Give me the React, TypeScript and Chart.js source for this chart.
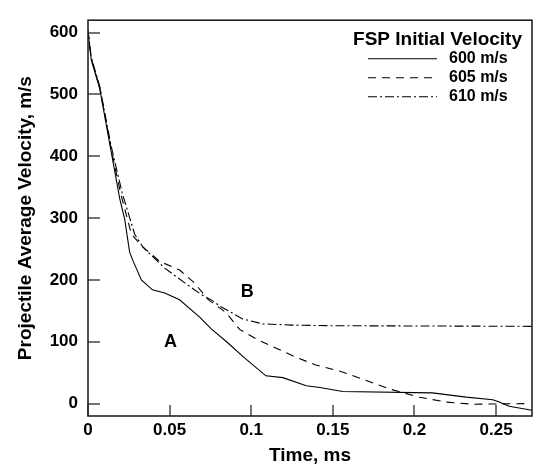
import React, { useEffect, useRef } from "react";
import { Chart, registerables } from "chart.js";

Chart.register(...registerables);

// ---- data ----
const xTicks = [0, 0.05, 0.1, 0.15, 0.2, 0.25];
const xTickLabels = ["0", "0.05", "0.1", "0.15", "0.2", "0.25"];
const yTicks = [0, 100, 200, 300, 400, 500, 600];
const yTickLabels = ["0", "100", "200", "300", "400", "500", "600"];

const seriesLabels = ["600 m/s", "605 m/s", "610 m/s"];

const t600 = [0, 0.002, 0.0072, 0.0143, 0.0194, 0.0225, 0.0255, 0.0274, 0.0327, 0.0395, 0.047, 0.0561, 0.0684, 0.0755, 0.0849, 0.0959, 0.109, 0.1194, 0.1337, 0.142, 0.156, 0.211, 0.2317, 0.248, 0.252, 0.258, 0.272];
const v600 = [600, 556, 509, 406, 332, 298, 245, 232, 200, 184, 179, 168, 140, 121, 100, 74, 45, 42, 29, 26, 19.5, 17.4, 10.5, 6.3, 2.5, -4.3, -10.6];

const t605 = [0, 0.002, 0.0072, 0.0143, 0.02, 0.0266, 0.0337, 0.0439, 0.0561, 0.0653, 0.0733, 0.0846, 0.0929, 0.104, 0.115, 0.1266, 0.139, 0.154, 0.1684, 0.1847, 0.203, 0.2194, 0.2357, 0.2673];
const v605 = [602, 558, 511, 410, 340, 274, 253, 230, 216, 195, 169, 147, 120, 103, 90, 76, 63, 52.7, 39.5, 23.7, 10.4, 2.5, -1, 0];

const t610 = [0, 0.002, 0.0072, 0.0143, 0.021, 0.0286, 0.0337, 0.047, 0.061, 0.0694, 0.0763, 0.0806, 0.0947, 0.107, 0.125, 0.148, 0.272];
const v610 = [604, 560, 513, 415, 340, 274, 253, 219, 192, 176.5, 166.6, 158, 137, 129, 127, 126, 125];

const legendTitle = "FSP Initial Velocity";
const annotationLabels = ["A", "B"];
const annotationX = [0.0505, 0.0975];
const annotationY = [100, 180];

const toPoints = (xs: number[], ys: number[]) => xs.map((x, i) => ({ x, y: ys[i] }));

const FONT = "'Liberation Sans', Arial, Helvetica, sans-serif";

const decorPlugin = {
  id: "decor",
  afterDraw(chart: any) {
    const { ctx, chartArea: a, scales } = chart;
    const x = scales.x;
    const y = scales.y;
    ctx.save();
    ctx.setLineDash([]);
    ctx.lineDashOffset = 0;
    ctx.globalAlpha = 1;
    // inward tick marks
    ctx.strokeStyle = "#444";
    ctx.lineWidth = 1.5;
    for (const v of xTicks) {
      const px = Math.round(x.getPixelForValue(v));
      ctx.beginPath();
      ctx.moveTo(px, a.bottom);
      ctx.lineTo(px, a.bottom - 11);
      ctx.stroke();
    }
    for (const v of yTicks) {
      const py = Math.round(y.getPixelForValue(v));
      ctx.beginPath();
      ctx.moveTo(a.left, py);
      ctx.lineTo(a.left + 12, py);
      ctx.stroke();
    }
    // frame
    ctx.strokeStyle = "#222";
    ctx.lineWidth = 1.6;
    ctx.strokeRect(a.left, a.top, a.right - a.left, a.bottom - a.top);

    // annotations
    ctx.fillStyle = "#000";
    ctx.font = `bold 18px ${FONT}`;
    ctx.textAlign = "center";
    ctx.textBaseline = "middle";
    annotationLabels.forEach((lab, i) => {
      ctx.fillText(lab, x.getPixelForValue(annotationX[i]), y.getPixelForValue(annotationY[i]));
    });

    // legend
    ctx.textBaseline = "alphabetic";
    ctx.textAlign = "right";
    ctx.font = `bold 19px ${FONT}`;
    ctx.fillText(legendTitle, a.right - 10, a.top + 25);
    ctx.textAlign = "left";
    ctx.font = `bold 16px ${FONT}`;
    chart.data.datasets.forEach((ds: any, i: number) => {
      const base = a.top + 43 + i * 19;
      ctx.strokeStyle = ds.borderColor;
      ctx.lineWidth = ds.borderWidth;
      ctx.setLineDash(ds.borderDash || []);
      ctx.beginPath();
      ctx.moveTo(a.right - 164, base - 4.5);
      ctx.lineTo(a.right - 95, base - 4.5);
      ctx.stroke();
      ctx.setLineDash([]);
      ctx.fillText(ds.label, a.right - 83, base);
    });
    ctx.restore();
  },
};

export default function App() {
  const ref = useRef<HTMLCanvasElement | null>(null);
  useEffect(() => {
    if (!ref.current) return;
    const common = { fill: false, pointRadius: 0, borderColor: "#000", borderWidth: 1.1, tension: 0 };
    const chart = new Chart(ref.current, {
      type: "line",
      data: {
        datasets: [
          { ...common, label: seriesLabels[0], data: toPoints(t600, v600), borderDash: [] },
          { ...common, label: seriesLabels[1], data: toPoints(t605, v605), borderDash: [8, 6] },
          { ...common, label: seriesLabels[2], data: toPoints(t610, v610), borderDash: [9, 3, 2, 3] },
        ],
      },
      options: {
        responsive: false,
        animation: false,
        devicePixelRatio: 1,
        layout: { padding: { left: 0, right: 3, top: 12, bottom: 0 } },
        plugins: { legend: { display: false }, tooltip: { enabled: false } },
        scales: {
          x: {
            type: "linear",
            min: 0,
            max: 0.272,
            grid: { display: false, drawTicks: false },
            border: { display: false },
            afterBuildTicks: (s: any) => {
              s.ticks = xTicks.map((v) => ({ value: v }));
            },
            afterFit: (s: any) => {
              s.height = 51;
            },
            ticks: {
              padding: 4,
              color: "#000",
              maxRotation: 0,
              autoSkip: false,
              font: { family: FONT, size: 17, weight: "bold" },
              callback: (_v: any, i: number) => xTickLabels[i],
            },
            title: {
              display: true,
              text: "Time, ms",
              color: "#000",
              font: { family: FONT, size: 19, weight: "bold" },
              padding: { top: 0, bottom: 0 },
            },
          },
          y: {
            type: "linear",
            min: -20,
            max: 620,
            grid: { display: false, drawTicks: false },
            border: { display: false },
            afterBuildTicks: (s: any) => {
              s.ticks = yTicks.map((v) => ({ value: v }));
            },
            afterFit: (s: any) => {
              s.width = 88;
            },
            ticks: {
              padding: 10,
              color: "#000",
              autoSkip: false,
              font: { family: FONT, size: 17, weight: "bold" },
              callback: (_v: any, i: number) => yTickLabels[i],
            },
            title: {
              display: true,
              text: "Projectile Average Velocity, m/s",
              color: "#000",
              font: { family: FONT, size: 19, weight: "bold" },
              padding: { top: 14, bottom: 0 },
            },
          },
        },
      },
      plugins: [decorPlugin],
    } as any);
    return () => chart.destroy();
  }, []);
  return (
    <div style={{ position: "fixed", left: 0, top: 0, width: 535, height: 467, background: "#fff" }}>
      <canvas ref={ref} width={535} height={467} style={{ display: "block" }} />
    </div>
  );
}
